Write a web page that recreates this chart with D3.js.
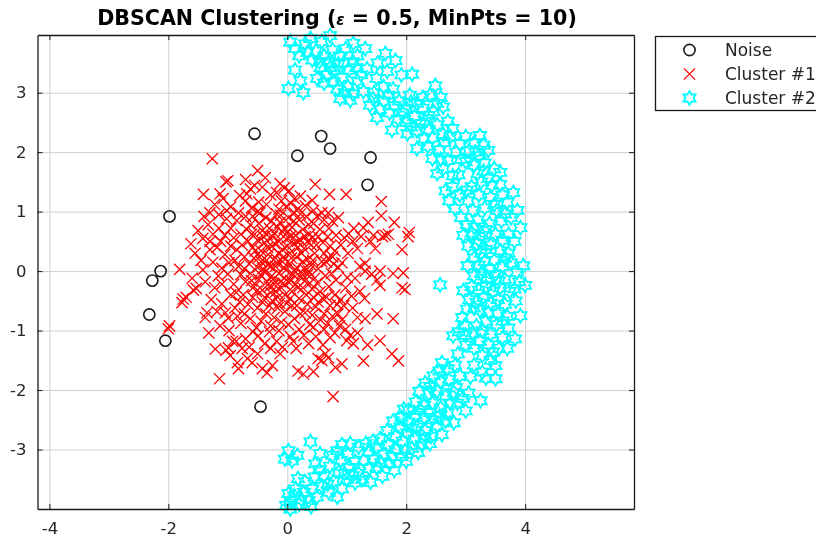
<!DOCTYPE html>
<html>
<head>
<meta charset="utf-8">
<script src="https://d3js.org/d3.v7.min.js"></script>
<style>
  html, body { margin: 0; padding: 0; background: #fff; overflow: hidden; }
  text { font-family: "DejaVu Sans", sans-serif; fill: #262626; }
  svg { filter: blur(0.45px); }
</style>
</head>
<body>
<div id="chart"></div>
<script>
// Values, [x, y]
var xTicks = [-4, -2, 0, 2, 4];
var yTicks = [-3, -2, -1, 0, 1, 2, 3];
var legendLabels = ["Noise", "Cluster #1", "Cluster #2"];

var noisePoints = [
  [-0.55, 2.31], [0.57, 2.27], [0.72, 2.06], [0.17, 1.94], [1.40, 1.91], [1.35, 1.45],
  [-1.98, 0.92], [-2.13, 0.00], [-2.27, -0.16], [-2.32, -0.73], [-2.05, -1.17], [-0.45, -2.28]
];

var cluster1Points = [
  // upper edge
  [-1.26, 1.89], [-1.00, 1.52], [-1.03, 1.50], [-0.50, 1.69], [-0.37, 1.57], [-0.70, 1.54], [-1.41, 1.29],
  [-1.13, 1.30], [-1.08, 1.22], [-0.50, 1.00], [-0.46, 0.98], [-0.62, 1.38], [-0.55, 1.44], [-0.42, 1.41],
  [-0.80, 1.27], [-0.70, 1.18], [-0.95, 1.08], [-1.02, 1.02], [-1.15, 0.95], [-1.22, 1.12], [-1.02, 0.88],
  [-0.12, 1.47], [-0.05, 1.40], [0.03, 1.35], [-0.18, 1.32], [-0.28, 1.28], [0.12, 1.22], [0.22, 1.26],
  [0.47, 1.46], [0.71, 1.29], [0.99, 1.29], [1.58, 1.17], [0.42, 1.19], [0.30, 1.10], [0.18, 1.05],
  [1.58, 0.93], [1.36, 0.82], [1.80, 0.82], [2.05, 0.65], [2.03, 0.58], [1.93, 0.36], [1.48, 0.38],
  [1.65, 0.60], [1.60, 0.58], [1.70, 0.62], [1.45, 0.60], [1.28, 0.73], [1.03, 0.63], [0.96, 0.56],
  [1.18, 0.38], [0.86, 0.90], [0.69, 0.98], [0.58, 0.98], [1.31, 0.13], [0.92, 0.14], [0.69, 0.21],
  [0.76, 0.24], [0.66, 0.15], [0.82, 0.60], [0.72, 0.42], [0.60, 0.48], [0.80, 0.34], [1.10, 0.50],
  // left side
  [-1.40, 0.92], [-1.33, 0.78], [-1.50, 0.68], [-1.42, 0.55], [-1.25, 0.62], [-1.15, 0.72], [-1.05, 0.60],
  [-0.95, 0.72], [-0.85, 0.85], [-0.78, 0.62], [-0.70, 0.92], [-1.55, 0.30], [-1.45, 0.18], [-1.30, 0.36],
  [-1.18, 0.40], [-1.05, 0.28], [-0.95, 0.42], [-1.25, 0.15], [-1.10, 0.05], [-0.88, 0.18], [-1.00, -0.05],
  [-1.81, 0.03], [-1.53, -0.29], [-1.58, -0.32], [-1.75, -0.47], [-1.77, -0.53], [-1.70, -0.44], [-1.98, -0.92],
  [-2.00, -0.97], [-1.35, -0.70], [-1.38, -0.78], [-1.32, -1.04], [-1.13, -0.92], [-0.99, -0.79], [-0.70, -1.14],
  [-0.49, -1.09], [-1.21, -1.31], [-0.99, -1.29], [-1.03, -1.33], [-1.14, -1.81], [-0.96, -1.42], [-0.82, -1.64],
  [-0.84, -1.54], [-0.67, -1.47], [-0.59, -1.54], [-0.50, -1.39], [-0.42, -1.64], [-0.34, -1.71], [-0.25, -1.59],
  [-0.12, -1.39], [-1.22, -0.28], [-1.10, -0.22], [-1.28, -0.48], [-1.10, -0.55], [-0.95, -0.40], [-1.18, -0.68],
  [-0.88, -0.62], [-0.98, -1.00], [-0.78, -0.88], [-0.62, -0.80], [-0.76, -1.30], [-0.38, -1.22], [-0.28, -1.30],
  [-0.18, -1.18], [-0.30, -1.02], [-0.52, -0.95],
  // right and lower side
  [0.77, -2.11], [0.18, -1.68], [0.27, -1.73], [0.44, -1.69], [0.81, -1.62], [0.92, -1.56], [1.28, -1.51],
  [1.87, -1.51], [1.76, -1.39], [1.56, -1.17], [1.35, -1.24], [1.78, -0.80], [1.51, -0.72], [1.31, -0.80],
  [1.18, -0.78], [1.11, -1.22], [1.00, -1.17], [1.18, -1.04], [0.52, -1.47], [0.64, -1.39], [0.69, -1.46],
  [0.58, -1.50], [1.95, -0.03], [1.78, -0.04], [1.93, -0.28], [1.98, -0.31], [1.56, -0.24], [1.51, -0.15],
  [1.56, 0.00], [1.31, 0.00], [1.42, -0.05], [1.01, -0.11], [0.98, -0.98], [1.06, -1.08], [0.88, -0.92],
  [0.72, -1.12], [0.60, -1.24], [0.48, -1.10], [0.36, -1.22], [0.15, -1.30], [0.05, -1.10], [0.20, -0.98],
  [0.38, -0.90], [0.62, -0.98], [0.85, -0.72], [0.95, -0.58], [0.72, -0.58], [0.80, -0.40], [0.62, -0.72],
  [0.48, -0.60], [0.98, -0.28], [0.82, -0.15], [0.70, -0.26], [0.90, -0.48], [0.55, -0.35], [1.08, -0.42],
  // dense middle
  [-0.62, 0.78], [-0.55, 0.62], [-0.48, 0.80], [-0.42, 0.68], [-0.36, 0.90], [-0.30, 0.72], [-0.25, 0.58],
  [-0.18, 0.96], [-0.12, 0.82], [-0.08, 0.66], [-0.02, 1.08], [0.02, 0.90], [0.08, 0.74], [0.14, 0.60],
  [0.20, 0.86], [0.26, 0.70], [0.32, 0.92], [0.38, 0.62], [0.44, 0.80], [-0.66, 0.50], [-0.58, 0.40],
  [-0.50, 0.52], [-0.44, 0.34], [-0.38, 0.48], [-0.32, 0.28], [-0.26, 0.42], [-0.20, 0.22], [-0.14, 0.50],
  [-0.08, 0.36], [-0.02, 0.54], [0.04, 0.30], [0.10, 0.46], [0.16, 0.24], [0.22, 0.52], [0.28, 0.38],
  [0.34, 0.20], [0.40, 0.44], [0.46, 0.30], [0.52, 0.58], [-0.72, 0.24], [-0.64, 0.12], [-0.56, 0.22],
  [-0.50, 0.06], [-0.44, 0.16], [-0.38, -0.02], [-0.32, 0.10], [-0.26, -0.08], [-0.20, 0.08], [-0.14, -0.04],
  [-0.08, 0.16], [-0.02, 0.02], [0.04, 0.12], [0.10, -0.06], [0.16, 0.06], [0.22, -0.10], [0.28, 0.04],
  [0.34, -0.06], [0.40, 0.10], [0.46, -0.12], [0.52, 0.04], [0.58, 0.16], [-0.78, -0.06], [-0.70, -0.18],
  [-0.62, -0.04], [-0.56, -0.26], [-0.48, -0.14], [-0.42, -0.32], [-0.34, -0.18], [-0.28, -0.36], [-0.22, -0.22],
  [-0.16, -0.44], [-0.10, -0.28], [-0.04, -0.40], [0.02, -0.18], [0.08, -0.34], [0.14, -0.22], [0.20, -0.46],
  [0.26, -0.28], [0.32, -0.40], [0.38, -0.20], [0.44, -0.44], [-0.74, -0.40], [-0.66, -0.56], [-0.58, -0.44],
  [-0.50, -0.62], [-0.42, -0.52], [-0.36, -0.72], [-0.30, -0.58], [-0.22, -0.78], [-0.16, -0.62], [-0.10, -0.86],
  [-0.04, -0.68], [0.02, -0.90], [0.08, -0.58], [0.12, -0.80], [0.42, -0.74], [0.52, -0.52],
  [-0.05, 0.72], [-0.15, 0.30], [0.05, 0.58], [0.12, 0.98], [-0.28, 0.08], [0.18, 0.40], [-0.05, -0.12],
  [0.00, 0.42], [-0.22, 0.64], [0.26, 0.16], [-0.10, 1.18], [0.06, 1.14], [-0.35, 1.12], [-0.48, 1.16],
  // second pass over the dark middle
  [-0.40, 0.58], [-0.33, 0.40], [-0.27, 0.84], [-0.21, 0.46], [-0.17, 0.74], [-0.11, 0.94], [-0.06, 0.24],
  [0.01, 0.66], [0.07, 0.22], [0.11, 0.84], [0.17, 0.50], [0.24, 0.30], [0.30, 0.58], [0.36, 0.78],
  [0.43, 0.18], [0.49, 0.44], [-0.47, 0.24], [-0.41, 0.04], [-0.35, 0.18], [-0.24, -0.14], [-0.18, 0.14],
  [-0.12, -0.18], [-0.06, 0.06], [0.06, -0.16], [0.12, 0.00], [0.18, -0.28], [0.24, -0.04], [0.30, -0.16],
  [0.36, 0.00], [0.42, -0.30], [0.50, -0.20], [-0.52, -0.34], [-0.45, -0.06], [-0.38, -0.44], [-0.30, -0.26],
  [-0.25, -0.50], [-0.19, -0.34], [-0.13, -0.54], [-0.07, -0.20], [-0.01, -0.54], [0.05, -0.46], [0.16, -0.58],
  [-0.60, -0.16], [-0.54, 0.34], [-0.60, 0.62], [-0.34, 0.62], [-0.14, 1.04], [0.22, 0.96], [0.34, 0.50],
  [0.42, 0.56], [0.55, 0.70], [0.62, 0.30], [0.64, -0.08], [0.60, -0.46], [-0.85, 0.36], [-0.82, 0.08],
  [-0.90, -0.22], [-0.80, -0.52], [-0.72, -0.72], [0.70, 0.72], [0.90, 0.44], [1.02, 0.30], [1.22, -0.34],
  [1.10, -0.62], [1.30, -0.46], [-1.60, -0.12], [-1.38, -0.18], [-1.42, 0.02], [-1.62, 0.46], [-0.92, -1.18],
  // third pass, outer part of the blob
  [0.68, -0.88], [0.76, -0.76], [0.56, -0.82], [0.84, -0.56], [0.92, -0.82], [0.66, -0.44], [0.74, -0.04],
  [0.86, 0.06], [0.78, 0.12], [0.68, 0.58], [0.76, 0.84], [0.62, 0.86], [0.50, 0.92], [0.44, 1.02],
  [-0.76, 0.44], [-0.90, 0.56], [-1.12, 0.50], [-0.68, 0.70], [-0.82, 0.98], [-0.60, 1.06], [-0.58, 0.92],
  [-0.68, 1.30], [-1.30, 0.98], [-1.30, 0.50], [-0.98, 0.14], [-1.16, -0.08], [-0.72, 0.04], [-0.86, -0.36],
  [-1.04, -0.70], [-0.84, -0.76], [-0.58, -1.02], [-0.44, -0.84], [-0.28, -0.92], [-0.14, -1.00], [0.10, -1.18],
  [0.28, -1.08], [0.30, -0.70], [0.34, -0.56], [0.22, -0.72], [0.44, -0.94], [0.80, -1.04], [-0.08, -1.28],
  [-0.64, -1.28], [-0.86, -1.18], [1.24, 0.58], [1.12, 0.72], [1.40, 0.50], [1.14, -0.12], [1.22, 0.08]
];

var cluster2Points = [
  // top cap
  [0.02, 3.07], [0.27, 3.00], [0.13, 3.38], [0.22, 3.20], [0.13, 3.74], [0.05, 3.85], [0.20, 3.62],
  [0.39, 3.91], [0.30, 3.82], [0.48, 3.70], [0.72, 3.96], [0.58, 3.86], [0.42, 3.55], [0.62, 3.62],
  [0.56, 3.42], [0.76, 3.72], [0.70, 3.52], [0.88, 3.62], [0.50, 3.24], [0.66, 3.30], [0.80, 3.38],
  [0.95, 3.50], [0.62, 3.16], [0.78, 3.18], [0.92, 3.26], [1.04, 3.38], [1.11, 3.83], [0.98, 3.74],
  [1.18, 3.62], [1.31, 3.74], [1.16, 3.42], [0.89, 2.90], [1.06, 2.87], [1.02, 3.10], [1.18, 3.20],
  [1.28, 3.02], [1.34, 3.40], [0.84, 3.06], [0.96, 3.00], [0.72, 3.42], [0.86, 3.48], [0.54, 3.52],
  [1.10, 3.52], [1.24, 3.30], [1.10, 2.98], [0.34, 3.68],
  // upper arc
  [1.65, 3.66], [1.82, 3.54], [1.52, 3.50], [1.68, 3.36], [2.10, 3.31], [1.92, 3.30], [1.50, 3.24],
  [1.39, 2.79], [1.51, 2.58], [1.46, 3.00], [1.62, 3.10], [1.62, 2.86], [1.78, 3.06], [1.72, 2.66],
  [1.76, 2.37], [1.88, 2.86], [1.86, 2.56], [2.02, 2.31], [2.00, 2.74], [2.06, 2.96], [2.00, 2.50],
  [2.18, 2.82], [2.14, 2.60], [2.28, 2.74], [2.49, 3.12], [2.40, 2.96], [2.58, 2.92], [2.32, 2.52],
  [2.18, 2.36], [2.18, 2.06], [2.30, 2.22], [2.46, 2.68], [2.62, 2.76], [2.52, 2.46], [2.70, 2.52],
  [2.44, 2.24], [2.62, 2.30], [2.44, 1.89], [2.56, 2.04], [2.74, 2.26], [3.24, 2.28], [3.14, 2.16],
  [3.30, 2.12], [3.38, 2.03], [3.06, 2.02], [3.22, 1.94], [2.84, 2.00], [2.70, 1.86], [2.52, 1.64],
  [1.56, 2.72], [1.44, 2.90], [1.70, 2.96], [1.80, 2.78], [1.94, 2.66], [2.08, 2.84], [2.08, 2.42],
  [2.24, 2.48], [2.38, 2.38], [2.38, 2.62], [2.52, 2.82], [2.28, 2.92], [2.36, 2.10], [2.64, 2.16],
  [2.78, 2.40], [2.58, 1.88], [2.90, 2.14], [3.00, 2.26], [3.16, 2.00], [2.92, 1.88],
  // right arc
  [2.62, 1.72], [2.78, 1.60], [3.00, 1.84], [3.14, 1.78], [3.32, 1.82], [3.48, 1.72], [3.58, 1.66],
  [3.20, 1.64], [3.30, 1.68], [3.38, 1.56], [3.26, 1.50], [3.44, 1.44], [3.58, 1.46], [2.66, 1.35],
  [2.78, 1.42], [2.88, 1.62], [3.10, 1.42], [3.22, 1.28], [3.42, 1.24], [3.62, 1.28], [3.80, 1.32],
  [3.70, 1.16], [2.72, 1.18], [2.82, 1.05], [3.04, 1.18], [3.12, 1.02], [3.32, 1.06], [3.52, 1.02],
  [3.87, 1.02], [3.76, 0.90], [2.92, 0.90], [3.02, 0.78], [3.20, 0.86], [3.40, 0.80], [3.60, 0.84],
  [2.96, 0.60], [3.10, 0.64], [3.28, 0.60], [3.50, 0.62], [3.72, 0.62], [3.92, 0.73], [3.82, 0.50],
  [3.04, 0.42], [3.18, 0.46], [3.34, 0.36], [3.26, 0.30], [3.42, 0.44], [3.58, 0.34], [3.72, 0.30],
  [3.03, 0.09], [3.14, 0.22], [3.22, 0.10], [3.32, 0.16], [3.40, 0.04], [3.48, 0.18], [3.62, 0.08],
  [3.76, 0.14], [3.97, 0.09], [3.86, -0.02], [3.14, -0.08], [3.26, -0.04], [3.36, -0.12], [3.50, -0.06],
  [3.66, -0.14], [4.00, -0.24], [3.90, -0.18], [2.57, -0.23], [2.96, -0.33], [3.10, -0.26], [3.22, -0.32],
  [3.34, -0.26], [3.46, -0.34], [3.58, -0.28], [3.74, -0.34], [3.06, -0.48], [3.18, -0.52], [3.30, -0.44],
  [3.42, -0.54], [3.54, -0.48], [3.66, -0.56], [3.84, -0.50], [2.94, -0.78], [3.02, -0.64], [3.24, -0.66],
  [3.38, -0.70], [3.54, -0.72], [3.70, -0.76], [3.92, -0.75], [3.34, -0.84], [3.52, -0.90], [3.72, -0.96],
  [2.79, -1.09], [2.88, -1.02], [3.00, -1.08], [3.12, -1.04], [3.28, -1.00], [3.42, -1.06], [3.83, -1.14],
  [3.62, -1.12], [2.87, -1.39], [3.00, -1.24], [3.24, -1.18], [3.38, -1.24], [3.56, -1.30], [3.70, -1.30],
  [3.28, -1.42], [3.42, -1.50], [3.50, -1.59], [2.90, 1.28], [3.02, 1.36], [3.48, 1.12], [3.66, 0.96],
  [3.14, 0.74], [3.34, 0.70], [3.62, 0.52], [3.66, 0.22], [3.22, 0.52], [3.56, -0.16], [3.82, -0.30],
  [3.14, -0.62], [3.62, -0.84], [3.18, -0.92], [2.98, -0.92], [3.46, -1.36], [3.14, -1.30],
  // lower arc
  [2.60, -1.54], [2.70, -1.64], [2.82, -1.58], [3.14, -1.58], [3.28, -1.70], [3.50, -1.81], [3.34, -1.80],
  [2.32, -1.88], [2.46, -1.76], [2.58, -1.86], [2.72, -1.82], [2.90, -1.76], [3.08, -1.78], [2.84, -1.96],
  [2.22, -2.02], [2.38, -2.06], [2.52, -2.02], [2.66, -2.10], [2.16, -2.20], [2.30, -2.26], [2.44, -2.22],
  [2.58, -2.30], [2.04, -2.34], [2.16, -2.42], [2.30, -2.46], [2.44, -2.50], [1.92, -2.46], [2.04, -2.54],
  [2.18, -2.62], [2.32, -2.68], [1.78, -2.52], [1.90, -2.62], [2.02, -2.72], [1.68, -2.68], [1.82, -2.78],
  [1.94, -2.86], [2.14, -2.82], [1.56, -2.82], [1.70, -2.92], [1.82, -3.00], [1.50, -2.96], [1.62, -3.08],
  [2.40, -2.38], [2.56, -2.44], [2.24, -2.34], [2.10, -2.64], [1.96, -2.32], [2.74, -2.22], [2.80, -2.04],
  [2.66, -2.52], [2.42, -2.78], [2.26, -2.92], [1.98, -3.02], [1.76, -3.12], [2.40, -1.94], [2.56, -1.68],
  // outer edge of the lower arc
  [3.25, -2.18], [3.00, -2.35], [2.80, -2.55], [2.60, -2.75], [2.40, -2.90], [2.20, -3.05], [2.00, -3.20],
  [1.80, -3.35], [1.60, -3.45], [1.40, -3.55], [2.86, -2.22], [2.70, -2.38], [2.52, -2.60], [2.30, -2.82],
  [2.10, -2.98], [1.92, -3.12], [1.72, -3.24], [3.05, -2.05], [2.95, -2.14],
  // bottom
  [1.44, -2.86], [1.32, -2.90], [1.36, -3.04], [1.46, -3.16], [1.58, -3.22], [1.28, -3.18], [1.38, -3.32],
  [1.20, -2.96], [1.06, -2.90], [0.92, -2.92], [0.84, -3.02], [1.02, -3.08], [1.14, -3.20], [0.90, -3.18],
  [1.04, -3.30], [1.20, -3.40], [0.76, -3.10], [0.72, -3.28], [0.86, -3.38], [1.00, -3.50], [1.14, -3.56],
  [0.39, -2.87], [0.55, -3.07], [0.47, -3.24], [0.02, -3.02], [0.08, -3.19], [-0.04, -3.16], [0.17, -3.10],
  [0.62, -3.44], [0.78, -3.54], [0.92, -3.66], [0.58, -3.62], [0.70, -3.72], [0.84, -3.80], [0.46, -3.46],
  [0.42, -3.66], [0.50, -3.80], [0.18, -3.49], [0.30, -3.54], [0.14, -3.66], [0.28, -3.72], [0.36, -3.86],
  [0.05, -3.86], [-0.02, -3.94], [0.05, -4.00], [0.20, -3.92], [0.12, -3.78], [0.40, -3.96], [0.02, -3.74],
  [0.96, -3.40], [1.10, -3.44], [1.26, -3.50], [1.50, -3.30], [0.68, -3.58], [0.54, -3.34], [0.24, -3.84]
];

var svgWidth = 816;
var svgHeight = 540;

// Plot box in pixels
var margin = { top: 35, right: 182, bottom: 31, left: 37.5 };
var width = svgWidth - margin.left - margin.right;
var height = svgHeight - margin.top - margin.bottom;

var svg = d3.select("#chart")
  .append("svg")
  .attr("width", svgWidth)
  .attr("height", svgHeight)
  .style("display", "block");

var chartGroup = svg.append("g")
  .attr("transform", `translate(${margin.left}, ${margin.top})`);

var xLinearScale = d3.scaleLinear().domain([-4.2, 5.83]).range([0, width]);
var yLinearScale = d3.scaleLinear().domain([-4.0, 3.97]).range([height, 0]);

// grid lines
chartGroup.append("g")
  .attr("transform", `translate(0, ${height})`)
  .call(d3.axisBottom(xLinearScale).tickValues(xTicks).tickSize(-height).tickFormat(""))
  .call(g => g.select(".domain").remove())
  .selectAll("line").attr("stroke", "#cfcfcf");
chartGroup.append("g")
  .call(d3.axisLeft(yLinearScale).tickValues(yTicks).tickSize(-width).tickFormat(""))
  .call(g => g.select(".domain").remove())
  .selectAll("line").attr("stroke", "#cfcfcf");

// hexagram marker, point up
function hexagramPath(outer) {
  var inner = outer / Math.sqrt(3);
  var pts = d3.range(12).map(function (i) {
    var r = i % 2 === 0 ? outer : inner;
    var a = i * Math.PI / 6;
    return [r * Math.sin(a), -r * Math.cos(a)];
  });
  return "M" + pts.join("L") + "Z";
}
var xMarkPath = "M-5.6,-5.6L5.6,5.6M-5.6,5.6L5.6,-5.6";

function drawNoise(sel) {
  sel.attr("r", 5.6).attr("fill", "none").attr("stroke", "#1a1a1a").attr("stroke-width", 1.6);
}
function drawCross(sel) {
  sel.attr("d", xMarkPath).attr("fill", "none").attr("stroke", "#ff0000").attr("stroke-width", 1.3);
}
function drawHex(sel) {
  sel.attr("d", hexagramPath(7)).attr("fill", "none").attr("stroke", "#00ffff").attr("stroke-width", 1.8);
}

// points
chartGroup.append("g").selectAll("circle").data(noisePoints).enter().append("circle")
  .attr("cx", d => xLinearScale(d[0]))
  .attr("cy", d => yLinearScale(d[1]))
  .call(drawNoise);

chartGroup.append("g").selectAll("path").data(cluster1Points).enter().append("path")
  .attr("transform", d => `translate(${xLinearScale(d[0])}, ${yLinearScale(d[1])})`)
  .call(drawCross);

chartGroup.append("g").selectAll("path").data(cluster2Points).enter().append("path")
  .attr("transform", d => `translate(${xLinearScale(d[0])}, ${yLinearScale(d[1])})`)
  .call(drawHex);

// axes on all four sides, ticks pointing inward
function styleAxis(g) {
  g.select(".domain").attr("stroke", "#1a1a1a").attr("stroke-width", 1.3);
  g.selectAll("line").attr("stroke", "#1a1a1a");
  g.selectAll("text").attr("font-size", 16.5).attr("font-family", "DejaVu Sans").attr("fill", "#262626");
}
chartGroup.append("g")
  .attr("transform", `translate(0, ${height})`)
  .call(d3.axisBottom(xLinearScale).tickValues(xTicks).tickSizeInner(-5).tickSizeOuter(0).tickPadding(13).tickFormat(d => String(d)))
  .call(styleAxis);
chartGroup.append("g")
  .call(d3.axisTop(xLinearScale).tickValues(xTicks).tickSizeInner(-5).tickSizeOuter(0).tickFormat(""))
  .call(styleAxis);
chartGroup.append("g")
  .call(d3.axisLeft(yLinearScale).tickValues(yTicks).tickSizeInner(-5).tickSizeOuter(0).tickPadding(11).tickFormat(d => String(d)))
  .call(styleAxis);
chartGroup.append("g")
  .attr("transform", `translate(${width}, 0)`)
  .call(d3.axisRight(yLinearScale).tickValues(yTicks).tickSizeInner(-5).tickSizeOuter(0).tickFormat(""))
  .call(styleAxis);

// title
var title = svg.append("text")
  .attr("x", 337)
  .attr("y", 25)
  .attr("text-anchor", "middle")
  .attr("font-size", 20.6)
  .attr("font-weight", "bold")
  .style("fill", "#000");
title.append("tspan").text("DBSCAN Clustering (");
title.append("tspan").attr("font-style", "italic").attr("font-size", 15).text("\u03b5");
title.append("tspan").text(" = 0.5, MinPts = 10)");

// legend, runs off the right edge of the page
var legendGroup = svg.append("g");
legendGroup.append("rect")
  .attr("x", 655.5)
  .attr("y", 36.5)
  .attr("width", 200)
  .attr("height", 74)
  .attr("fill", "#fff")
  .attr("stroke", "#1a1a1a")
  .attr("stroke-width", 1.3);

var legendY = d3.scalePoint().domain(legendLabels).range([50, 98]);

legendGroup.selectAll("text").data(legendLabels).enter().append("text")
  .attr("x", 725)
  .attr("y", d => legendY(d) + 6)
  .attr("font-size", 17)
  .text(d => d);

legendGroup.append("circle")
  .attr("cx", 689.5).attr("cy", legendY(legendLabels[0]))
  .call(drawNoise);
legendGroup.append("path")
  .attr("transform", `translate(689.5, ${legendY(legendLabels[1])})`)
  .call(drawCross);
legendGroup.append("path")
  .attr("transform", `translate(689.5, ${legendY(legendLabels[2])})`)
  .call(drawHex);
</script>
</body>
</html>
